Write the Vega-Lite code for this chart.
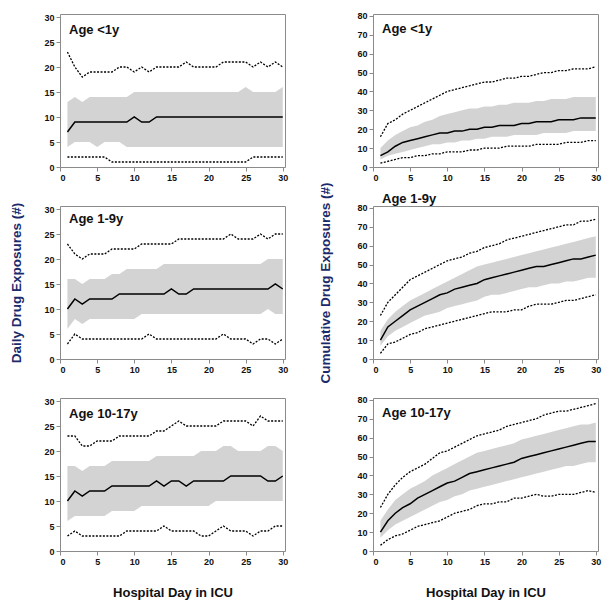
{
"$schema":"https://vega.github.io/schema/vega-lite/v6.json",
"padding":{"left":9,"top":11,"right":5,"bottom":0},
"background":"white",
"datasets":{"d":[
{"m":"daily","age":"<1y","day":1,"p5":2,"q1":4,"med":7,"q3":13,"p95":23},
{"m":"daily","age":"<1y","day":2,"p5":2,"q1":5,"med":9,"q3":14,"p95":20},
{"m":"daily","age":"<1y","day":3,"p5":2,"q1":5,"med":9,"q3":13,"p95":18},
{"m":"daily","age":"<1y","day":4,"p5":2,"q1":5,"med":9,"q3":14,"p95":19},
{"m":"daily","age":"<1y","day":5,"p5":2,"q1":4,"med":9,"q3":14,"p95":19},
{"m":"daily","age":"<1y","day":6,"p5":2,"q1":5,"med":9,"q3":14,"p95":19},
{"m":"daily","age":"<1y","day":7,"p5":1,"q1":5,"med":9,"q3":14,"p95":19},
{"m":"daily","age":"<1y","day":8,"p5":1,"q1":5,"med":9,"q3":14,"p95":20},
{"m":"daily","age":"<1y","day":9,"p5":1,"q1":4,"med":9,"q3":14,"p95":20},
{"m":"daily","age":"<1y","day":10,"p5":1,"q1":4,"med":10,"q3":15,"p95":19},
{"m":"daily","age":"<1y","day":11,"p5":1,"q1":4,"med":9,"q3":15,"p95":20},
{"m":"daily","age":"<1y","day":12,"p5":1,"q1":4,"med":9,"q3":15,"p95":19},
{"m":"daily","age":"<1y","day":13,"p5":1,"q1":4,"med":10,"q3":15,"p95":20},
{"m":"daily","age":"<1y","day":14,"p5":1,"q1":4,"med":10,"q3":15,"p95":20},
{"m":"daily","age":"<1y","day":15,"p5":1,"q1":4,"med":10,"q3":15,"p95":20},
{"m":"daily","age":"<1y","day":16,"p5":1,"q1":4,"med":10,"q3":15,"p95":20},
{"m":"daily","age":"<1y","day":17,"p5":1,"q1":4,"med":10,"q3":15,"p95":21},
{"m":"daily","age":"<1y","day":18,"p5":1,"q1":4,"med":10,"q3":15,"p95":20},
{"m":"daily","age":"<1y","day":19,"p5":1,"q1":4,"med":10,"q3":15,"p95":20},
{"m":"daily","age":"<1y","day":20,"p5":1,"q1":4,"med":10,"q3":15,"p95":20},
{"m":"daily","age":"<1y","day":21,"p5":1,"q1":4,"med":10,"q3":15,"p95":20},
{"m":"daily","age":"<1y","day":22,"p5":1,"q1":4,"med":10,"q3":15,"p95":21},
{"m":"daily","age":"<1y","day":23,"p5":1,"q1":4,"med":10,"q3":15,"p95":21},
{"m":"daily","age":"<1y","day":24,"p5":1,"q1":4,"med":10,"q3":15,"p95":21},
{"m":"daily","age":"<1y","day":25,"p5":1,"q1":4,"med":10,"q3":16,"p95":21},
{"m":"daily","age":"<1y","day":26,"p5":2,"q1":4,"med":10,"q3":15,"p95":20},
{"m":"daily","age":"<1y","day":27,"p5":2,"q1":4,"med":10,"q3":15,"p95":21},
{"m":"daily","age":"<1y","day":28,"p5":2,"q1":4,"med":10,"q3":15,"p95":20},
{"m":"daily","age":"<1y","day":29,"p5":2,"q1":4,"med":10,"q3":15,"p95":21},
{"m":"daily","age":"<1y","day":30,"p5":2,"q1":4,"med":10,"q3":16,"p95":20},
{"m":"daily","age":"1-9y","day":1,"p5":3,"q1":6,"med":10,"q3":16,"p95":23},
{"m":"daily","age":"1-9y","day":2,"p5":5,"q1":8,"med":12,"q3":16,"p95":21},
{"m":"daily","age":"1-9y","day":3,"p5":4,"q1":7,"med":11,"q3":15,"p95":20},
{"m":"daily","age":"1-9y","day":4,"p5":4,"q1":8,"med":12,"q3":16,"p95":21},
{"m":"daily","age":"1-9y","day":5,"p5":4,"q1":8,"med":12,"q3":16,"p95":21},
{"m":"daily","age":"1-9y","day":6,"p5":4,"q1":8,"med":12,"q3":16,"p95":21},
{"m":"daily","age":"1-9y","day":7,"p5":4,"q1":8,"med":12,"q3":17,"p95":22},
{"m":"daily","age":"1-9y","day":8,"p5":4,"q1":8,"med":13,"q3":17,"p95":22},
{"m":"daily","age":"1-9y","day":9,"p5":4,"q1":8,"med":13,"q3":18,"p95":22},
{"m":"daily","age":"1-9y","day":10,"p5":4,"q1":8,"med":13,"q3":18,"p95":22},
{"m":"daily","age":"1-9y","day":11,"p5":4,"q1":9,"med":13,"q3":18,"p95":23},
{"m":"daily","age":"1-9y","day":12,"p5":5,"q1":9,"med":13,"q3":18,"p95":23},
{"m":"daily","age":"1-9y","day":13,"p5":4,"q1":9,"med":13,"q3":18,"p95":23},
{"m":"daily","age":"1-9y","day":14,"p5":4,"q1":9,"med":13,"q3":19,"p95":23},
{"m":"daily","age":"1-9y","day":15,"p5":4,"q1":9,"med":14,"q3":19,"p95":23},
{"m":"daily","age":"1-9y","day":16,"p5":4,"q1":9,"med":13,"q3":19,"p95":24},
{"m":"daily","age":"1-9y","day":17,"p5":4,"q1":9,"med":13,"q3":19,"p95":24},
{"m":"daily","age":"1-9y","day":18,"p5":4,"q1":9,"med":14,"q3":19,"p95":24},
{"m":"daily","age":"1-9y","day":19,"p5":4,"q1":9,"med":14,"q3":19,"p95":24},
{"m":"daily","age":"1-9y","day":20,"p5":4,"q1":9,"med":14,"q3":19,"p95":24},
{"m":"daily","age":"1-9y","day":21,"p5":4,"q1":9,"med":14,"q3":19,"p95":24},
{"m":"daily","age":"1-9y","day":22,"p5":5,"q1":9,"med":14,"q3":19,"p95":24},
{"m":"daily","age":"1-9y","day":23,"p5":4,"q1":9,"med":14,"q3":19,"p95":25},
{"m":"daily","age":"1-9y","day":24,"p5":4,"q1":9,"med":14,"q3":19,"p95":24},
{"m":"daily","age":"1-9y","day":25,"p5":4,"q1":9,"med":14,"q3":19,"p95":24},
{"m":"daily","age":"1-9y","day":26,"p5":3,"q1":9,"med":14,"q3":19,"p95":24},
{"m":"daily","age":"1-9y","day":27,"p5":4,"q1":9,"med":14,"q3":19,"p95":25},
{"m":"daily","age":"1-9y","day":28,"p5":4,"q1":10,"med":14,"q3":20,"p95":24},
{"m":"daily","age":"1-9y","day":29,"p5":3,"q1":9,"med":15,"q3":20,"p95":25},
{"m":"daily","age":"1-9y","day":30,"p5":4,"q1":9,"med":14,"q3":20,"p95":25},
{"m":"daily","age":"10-17y","day":1,"p5":3,"q1":6,"med":10,"q3":17,"p95":23},
{"m":"daily","age":"10-17y","day":2,"p5":4,"q1":7,"med":12,"q3":17,"p95":23},
{"m":"daily","age":"10-17y","day":3,"p5":3,"q1":7,"med":11,"q3":16,"p95":21},
{"m":"daily","age":"10-17y","day":4,"p5":3,"q1":7,"med":12,"q3":17,"p95":21},
{"m":"daily","age":"10-17y","day":5,"p5":3,"q1":7,"med":12,"q3":17,"p95":22},
{"m":"daily","age":"10-17y","day":6,"p5":3,"q1":7,"med":12,"q3":17,"p95":22},
{"m":"daily","age":"10-17y","day":7,"p5":3,"q1":8,"med":13,"q3":18,"p95":22},
{"m":"daily","age":"10-17y","day":8,"p5":3,"q1":8,"med":13,"q3":18,"p95":23},
{"m":"daily","age":"10-17y","day":9,"p5":4,"q1":8,"med":13,"q3":18,"p95":23},
{"m":"daily","age":"10-17y","day":10,"p5":4,"q1":8,"med":13,"q3":18,"p95":23},
{"m":"daily","age":"10-17y","day":11,"p5":4,"q1":9,"med":13,"q3":18,"p95":23},
{"m":"daily","age":"10-17y","day":12,"p5":4,"q1":9,"med":13,"q3":18,"p95":23},
{"m":"daily","age":"10-17y","day":13,"p5":4,"q1":9,"med":14,"q3":19,"p95":24},
{"m":"daily","age":"10-17y","day":14,"p5":5,"q1":9,"med":13,"q3":19,"p95":24},
{"m":"daily","age":"10-17y","day":15,"p5":4,"q1":9,"med":14,"q3":19,"p95":25},
{"m":"daily","age":"10-17y","day":16,"p5":4,"q1":9,"med":14,"q3":19,"p95":26},
{"m":"daily","age":"10-17y","day":17,"p5":4,"q1":9,"med":13,"q3":19,"p95":25},
{"m":"daily","age":"10-17y","day":18,"p5":4,"q1":9,"med":14,"q3":19,"p95":25},
{"m":"daily","age":"10-17y","day":19,"p5":3,"q1":9,"med":14,"q3":20,"p95":25},
{"m":"daily","age":"10-17y","day":20,"p5":3,"q1":9,"med":14,"q3":20,"p95":25},
{"m":"daily","age":"10-17y","day":21,"p5":4,"q1":10,"med":14,"q3":20,"p95":25},
{"m":"daily","age":"10-17y","day":22,"p5":5,"q1":10,"med":14,"q3":21,"p95":26},
{"m":"daily","age":"10-17y","day":23,"p5":4,"q1":10,"med":15,"q3":21,"p95":26},
{"m":"daily","age":"10-17y","day":24,"p5":4,"q1":10,"med":15,"q3":20,"p95":26},
{"m":"daily","age":"10-17y","day":25,"p5":4,"q1":10,"med":15,"q3":20,"p95":26},
{"m":"daily","age":"10-17y","day":26,"p5":3,"q1":10,"med":15,"q3":20,"p95":25},
{"m":"daily","age":"10-17y","day":27,"p5":4,"q1":10,"med":15,"q3":20,"p95":27},
{"m":"daily","age":"10-17y","day":28,"p5":4,"q1":10,"med":14,"q3":21,"p95":26},
{"m":"daily","age":"10-17y","day":29,"p5":5,"q1":10,"med":14,"q3":21,"p95":26},
{"m":"daily","age":"10-17y","day":30,"p5":5,"q1":10,"med":15,"q3":20,"p95":26},
{"m":"cum","age":"<1y","day":1,"p5":2,"q1":4,"med":6,"q3":10,"p95":16},
{"m":"cum","age":"<1y","day":2,"p5":3,"q1":6,"med":8,"q3":14,"p95":23},
{"m":"cum","age":"<1y","day":3,"p5":4,"q1":7,"med":11,"q3":17,"p95":25},
{"m":"cum","age":"<1y","day":4,"p5":5,"q1":8,"med":13,"q3":19,"p95":28},
{"m":"cum","age":"<1y","day":5,"p5":5,"q1":9,"med":14,"q3":21,"p95":30},
{"m":"cum","age":"<1y","day":6,"p5":6,"q1":10,"med":15,"q3":22,"p95":32},
{"m":"cum","age":"<1y","day":7,"p5":6,"q1":11,"med":16,"q3":24,"p95":34},
{"m":"cum","age":"<1y","day":8,"p5":7,"q1":12,"med":17,"q3":25,"p95":36},
{"m":"cum","age":"<1y","day":9,"p5":7,"q1":12,"med":18,"q3":27,"p95":38},
{"m":"cum","age":"<1y","day":10,"p5":8,"q1":13,"med":18,"q3":28,"p95":40},
{"m":"cum","age":"<1y","day":11,"p5":8,"q1":13,"med":19,"q3":29,"p95":41},
{"m":"cum","age":"<1y","day":12,"p5":8,"q1":14,"med":19,"q3":30,"p95":42},
{"m":"cum","age":"<1y","day":13,"p5":9,"q1":14,"med":20,"q3":31,"p95":43},
{"m":"cum","age":"<1y","day":14,"p5":9,"q1":15,"med":20,"q3":31,"p95":44},
{"m":"cum","age":"<1y","day":15,"p5":10,"q1":15,"med":21,"q3":32,"p95":45},
{"m":"cum","age":"<1y","day":16,"p5":10,"q1":16,"med":21,"q3":32,"p95":45},
{"m":"cum","age":"<1y","day":17,"p5":10,"q1":16,"med":22,"q3":33,"p95":46},
{"m":"cum","age":"<1y","day":18,"p5":11,"q1":16,"med":22,"q3":33,"p95":47},
{"m":"cum","age":"<1y","day":19,"p5":11,"q1":17,"med":22,"q3":34,"p95":47},
{"m":"cum","age":"<1y","day":20,"p5":11,"q1":17,"med":23,"q3":34,"p95":48},
{"m":"cum","age":"<1y","day":21,"p5":11,"q1":17,"med":23,"q3":34,"p95":48},
{"m":"cum","age":"<1y","day":22,"p5":12,"q1":17,"med":24,"q3":35,"p95":49},
{"m":"cum","age":"<1y","day":23,"p5":12,"q1":18,"med":24,"q3":35,"p95":50},
{"m":"cum","age":"<1y","day":24,"p5":12,"q1":18,"med":24,"q3":36,"p95":50},
{"m":"cum","age":"<1y","day":25,"p5":12,"q1":18,"med":25,"q3":36,"p95":51},
{"m":"cum","age":"<1y","day":26,"p5":13,"q1":18,"med":25,"q3":36,"p95":51},
{"m":"cum","age":"<1y","day":27,"p5":13,"q1":19,"med":25,"q3":37,"p95":52},
{"m":"cum","age":"<1y","day":28,"p5":13,"q1":19,"med":26,"q3":37,"p95":52},
{"m":"cum","age":"<1y","day":29,"p5":14,"q1":19,"med":26,"q3":37,"p95":52},
{"m":"cum","age":"<1y","day":30,"p5":14,"q1":19,"med":26,"q3":37,"p95":53},
{"m":"cum","age":"1-9y","day":1,"p5":3,"q1":7,"med":10,"q3":15,"p95":23},
{"m":"cum","age":"1-9y","day":2,"p5":8,"q1":12,"med":17,"q3":21,"p95":30},
{"m":"cum","age":"1-9y","day":3,"p5":9,"q1":15,"med":20,"q3":25,"p95":34},
{"m":"cum","age":"1-9y","day":4,"p5":11,"q1":17,"med":23,"q3":28,"p95":38},
{"m":"cum","age":"1-9y","day":5,"p5":13,"q1":19,"med":26,"q3":31,"p95":42},
{"m":"cum","age":"1-9y","day":6,"p5":14,"q1":21,"med":28,"q3":33,"p95":44},
{"m":"cum","age":"1-9y","day":7,"p5":16,"q1":23,"med":30,"q3":35,"p95":46},
{"m":"cum","age":"1-9y","day":8,"p5":17,"q1":24,"med":32,"q3":37,"p95":48},
{"m":"cum","age":"1-9y","day":9,"p5":18,"q1":25,"med":34,"q3":39,"p95":50},
{"m":"cum","age":"1-9y","day":10,"p5":19,"q1":27,"med":35,"q3":41,"p95":52},
{"m":"cum","age":"1-9y","day":11,"p5":20,"q1":28,"med":37,"q3":43,"p95":53},
{"m":"cum","age":"1-9y","day":12,"p5":21,"q1":29,"med":38,"q3":45,"p95":54},
{"m":"cum","age":"1-9y","day":13,"p5":22,"q1":30,"med":39,"q3":47,"p95":56},
{"m":"cum","age":"1-9y","day":14,"p5":23,"q1":31,"med":40,"q3":49,"p95":57},
{"m":"cum","age":"1-9y","day":15,"p5":24,"q1":33,"med":42,"q3":50,"p95":59},
{"m":"cum","age":"1-9y","day":16,"p5":25,"q1":34,"med":43,"q3":51,"p95":60},
{"m":"cum","age":"1-9y","day":17,"p5":25,"q1":34,"med":44,"q3":52,"p95":61},
{"m":"cum","age":"1-9y","day":18,"p5":25,"q1":35,"med":45,"q3":53,"p95":63},
{"m":"cum","age":"1-9y","day":19,"p5":26,"q1":36,"med":46,"q3":54,"p95":64},
{"m":"cum","age":"1-9y","day":20,"p5":26,"q1":37,"med":47,"q3":55,"p95":65},
{"m":"cum","age":"1-9y","day":21,"p5":28,"q1":38,"med":48,"q3":56,"p95":66},
{"m":"cum","age":"1-9y","day":22,"p5":29,"q1":38,"med":49,"q3":57,"p95":67},
{"m":"cum","age":"1-9y","day":23,"p5":29,"q1":39,"med":49,"q3":58,"p95":68},
{"m":"cum","age":"1-9y","day":24,"p5":29,"q1":40,"med":50,"q3":59,"p95":69},
{"m":"cum","age":"1-9y","day":25,"p5":30,"q1":40,"med":51,"q3":60,"p95":70},
{"m":"cum","age":"1-9y","day":26,"p5":31,"q1":41,"med":52,"q3":61,"p95":71},
{"m":"cum","age":"1-9y","day":27,"p5":31,"q1":41,"med":53,"q3":62,"p95":71},
{"m":"cum","age":"1-9y","day":28,"p5":32,"q1":42,"med":53,"q3":63,"p95":73},
{"m":"cum","age":"1-9y","day":29,"p5":33,"q1":43,"med":54,"q3":64,"p95":73},
{"m":"cum","age":"1-9y","day":30,"p5":34,"q1":43,"med":55,"q3":65,"p95":74},
{"m":"cum","age":"10-17y","day":1,"p5":3,"q1":7,"med":10,"q3":16,"p95":23},
{"m":"cum","age":"10-17y","day":2,"p5":6,"q1":11,"med":16,"q3":22,"p95":30},
{"m":"cum","age":"10-17y","day":3,"p5":8,"q1":14,"med":20,"q3":27,"p95":35},
{"m":"cum","age":"10-17y","day":4,"p5":9,"q1":16,"med":23,"q3":30,"p95":39},
{"m":"cum","age":"10-17y","day":5,"p5":11,"q1":18,"med":25,"q3":33,"p95":42},
{"m":"cum","age":"10-17y","day":6,"p5":13,"q1":20,"med":28,"q3":35,"p95":44},
{"m":"cum","age":"10-17y","day":7,"p5":14,"q1":22,"med":30,"q3":37,"p95":46},
{"m":"cum","age":"10-17y","day":8,"p5":15,"q1":24,"med":32,"q3":40,"p95":49},
{"m":"cum","age":"10-17y","day":9,"p5":16,"q1":26,"med":34,"q3":42,"p95":52},
{"m":"cum","age":"10-17y","day":10,"p5":18,"q1":27,"med":36,"q3":44,"p95":53},
{"m":"cum","age":"10-17y","day":11,"p5":20,"q1":29,"med":37,"q3":46,"p95":55},
{"m":"cum","age":"10-17y","day":12,"p5":21,"q1":30,"med":39,"q3":48,"p95":57},
{"m":"cum","age":"10-17y","day":13,"p5":22,"q1":32,"med":41,"q3":50,"p95":59},
{"m":"cum","age":"10-17y","day":14,"p5":24,"q1":33,"med":42,"q3":52,"p95":61},
{"m":"cum","age":"10-17y","day":15,"p5":25,"q1":34,"med":43,"q3":53,"p95":62},
{"m":"cum","age":"10-17y","day":16,"p5":25,"q1":35,"med":44,"q3":54,"p95":63},
{"m":"cum","age":"10-17y","day":17,"p5":26,"q1":36,"med":45,"q3":55,"p95":64},
{"m":"cum","age":"10-17y","day":18,"p5":26,"q1":37,"med":46,"q3":56,"p95":66},
{"m":"cum","age":"10-17y","day":19,"p5":28,"q1":38,"med":47,"q3":57,"p95":67},
{"m":"cum","age":"10-17y","day":20,"p5":28,"q1":39,"med":49,"q3":59,"p95":68},
{"m":"cum","age":"10-17y","day":21,"p5":29,"q1":40,"med":50,"q3":60,"p95":69},
{"m":"cum","age":"10-17y","day":22,"p5":30,"q1":41,"med":51,"q3":61,"p95":70},
{"m":"cum","age":"10-17y","day":23,"p5":29,"q1":42,"med":52,"q3":62,"p95":72},
{"m":"cum","age":"10-17y","day":24,"p5":29,"q1":43,"med":53,"q3":63,"p95":73},
{"m":"cum","age":"10-17y","day":25,"p5":30,"q1":44,"med":54,"q3":64,"p95":74},
{"m":"cum","age":"10-17y","day":26,"p5":30,"q1":45,"med":55,"q3":65,"p95":74},
{"m":"cum","age":"10-17y","day":27,"p5":30,"q1":45,"med":56,"q3":66,"p95":75},
{"m":"cum","age":"10-17y","day":28,"p5":31,"q1":46,"med":57,"q3":67,"p95":76},
{"m":"cum","age":"10-17y","day":29,"p5":32,"q1":47,"med":58,"q3":67,"p95":77},
{"m":"cum","age":"10-17y","day":30,"p5":31,"q1":47,"med":58,"q3":68,"p95":78}
]},
"config":{
 "view":{"stroke":"#8a8a8a","strokeWidth":1},
 "axis":{"domain":false,"grid":false,"ticks":true,"tickColor":"#8a8a8a","tickSize":4,"labelFont":"Liberation Sans","labelFontWeight":"bold","labelFontSize":9,"labelColor":"#111111","labelPadding":2,"titleFont":"Liberation Sans","titleFontWeight":"bold"},
 "axisX":{"titleFontSize":13,"titleColor":"#111111","titlePadding":20},
 "axisY":{"titleFontSize":13.5,"titleColor":"#1b2a6b","titlePadding":20},
 "title":{"anchor":"start","frame":"group","offset":-24,"dx":9,"fontSize":13,"fontWeight":"bold","font":"Liberation Sans","color":"#111111"},
 "area":{"color":"#d3d3d3"},
 "line":{"color":"#000000"}
},
"spacing":29,
"hconcat":[
{"bounds":"flush","spacing":39,"vconcat":[
{"width":225,"height":153,"data":{"name":"d"},"transform":[{"filter":"datum.m=='daily' && datum.age=='<1y'"}],"title":"Age <1y",
 "encoding":{"x":{"field":"day","type":"quantitative","scale":{"domain":[0,30.3],"nice":false},"axis":{"values":[0,5,10,15,20,25,30],"title":null}}},
 "layer":[
  {"mark":{"type":"area"},"encoding":{"y":{"field":"q1","type":"quantitative","title":null,"scale":{"domain":[0,30.6],"nice":false},"axis":{"values":[0,5,10,15,20,25,30]}},"y2":{"field":"q3"}}},
  {"mark":{"type":"line","strokeWidth":1.5},"encoding":{"y":{"field":"med","type":"quantitative","title":null,"axis":{"values":[0,5,10,15,20,25,30]}}}},
  {"mark":{"type":"line","strokeWidth":1.3,"strokeDash":[2,1.5]},"encoding":{"y":{"field":"p5","type":"quantitative","title":null,"axis":{"values":[0,5,10,15,20,25,30]}}}},
  {"mark":{"type":"line","strokeWidth":1.3,"strokeDash":[2,1.5]},"encoding":{"y":{"field":"p95","type":"quantitative","title":null,"axis":{"values":[0,5,10,15,20,25,30]}}}}
 ]},
{"width":225,"height":153,"data":{"name":"d"},"transform":[{"filter":"datum.m=='daily' && datum.age=='1-9y'"}],"title":"Age 1-9y",
 "encoding":{"x":{"field":"day","type":"quantitative","scale":{"domain":[0,30.3],"nice":false},"axis":{"values":[0,5,10,15,20,25,30],"title":null}}},
 "layer":[
  {"mark":{"type":"area"},"encoding":{"y":{"field":"q1","type":"quantitative","title":"Daily Drug Exposures (#)","scale":{"domain":[0,30.6],"nice":false},"axis":{"values":[0,5,10,15,20,25,30]}},"y2":{"field":"q3"}}},
  {"mark":{"type":"line","strokeWidth":1.5},"encoding":{"y":{"field":"med","type":"quantitative","title":"Daily Drug Exposures (#)","axis":{"values":[0,5,10,15,20,25,30]}}}},
  {"mark":{"type":"line","strokeWidth":1.3,"strokeDash":[2,1.5]},"encoding":{"y":{"field":"p5","type":"quantitative","title":"Daily Drug Exposures (#)","axis":{"values":[0,5,10,15,20,25,30]}}}},
  {"mark":{"type":"line","strokeWidth":1.3,"strokeDash":[2,1.5]},"encoding":{"y":{"field":"p95","type":"quantitative","title":"Daily Drug Exposures (#)","axis":{"values":[0,5,10,15,20,25,30]}}}}
 ]},
{"width":225,"height":153,"data":{"name":"d"},"transform":[{"filter":"datum.m=='daily' && datum.age=='10-17y'"}],"title":"Age 10-17y",
 "encoding":{"x":{"field":"day","type":"quantitative","scale":{"domain":[0,30.3],"nice":false},"axis":{"values":[0,5,10,15,20,25,30],"title":"Hospital Day in ICU"}}},
 "layer":[
  {"mark":{"type":"area"},"encoding":{"y":{"field":"q1","type":"quantitative","title":null,"scale":{"domain":[0,30.6],"nice":false},"axis":{"values":[0,5,10,15,20,25,30]}},"y2":{"field":"q3"}}},
  {"mark":{"type":"line","strokeWidth":1.5},"encoding":{"y":{"field":"med","type":"quantitative","title":null,"axis":{"values":[0,5,10,15,20,25,30]}}}},
  {"mark":{"type":"line","strokeWidth":1.3,"strokeDash":[2,1.5]},"encoding":{"y":{"field":"p5","type":"quantitative","title":null,"axis":{"values":[0,5,10,15,20,25,30]}}}},
  {"mark":{"type":"line","strokeWidth":1.3,"strokeDash":[2,1.5]},"encoding":{"y":{"field":"p95","type":"quantitative","title":null,"axis":{"values":[0,5,10,15,20,25,30]}}}}
 ]}
]},
{"bounds":"flush","spacing":39,"vconcat":[
{"width":225,"height":153,"data":{"name":"d"},"transform":[{"filter":"datum.m=='cum' && datum.age=='<1y'"}],"title":"Age <1y",
 "encoding":{"x":{"field":"day","type":"quantitative","scale":{"domain":[0,30.3],"nice":false},"axis":{"values":[0,5,10,15,20,25,30],"title":null}}},
 "layer":[
  {"mark":{"type":"area"},"encoding":{"y":{"field":"q1","type":"quantitative","title":null,"scale":{"domain":[0,81],"nice":false},"axis":{"values":[0,10,20,30,40,50,60,70,80]}},"y2":{"field":"q3"}}},
  {"mark":{"type":"line","strokeWidth":1.5},"encoding":{"y":{"field":"med","type":"quantitative","title":null,"axis":{"values":[0,10,20,30,40,50,60,70,80]}}}},
  {"mark":{"type":"line","strokeWidth":1.3,"strokeDash":[2,1.5]},"encoding":{"y":{"field":"p5","type":"quantitative","title":null,"axis":{"values":[0,10,20,30,40,50,60,70,80]}}}},
  {"mark":{"type":"line","strokeWidth":1.3,"strokeDash":[2,1.5]},"encoding":{"y":{"field":"p95","type":"quantitative","title":null,"axis":{"values":[0,10,20,30,40,50,60,70,80]}}}}
 ]},
{"width":225,"height":153,"data":{"name":"d"},"transform":[{"filter":"datum.m=='cum' && datum.age=='1-9y'"}],"title":"Age 1-9y",
 "encoding":{"x":{"field":"day","type":"quantitative","scale":{"domain":[0,30.3],"nice":false},"axis":{"values":[0,5,10,15,20,25,30],"title":null}}},
 "layer":[
  {"mark":{"type":"area"},"encoding":{"y":{"field":"q1","type":"quantitative","title":"Cumulative Drug Exposures (#)","scale":{"domain":[0,81],"nice":false},"axis":{"values":[0,10,20,30,40,50,60,70,80],"titlePadding":24}},"y2":{"field":"q3"}}},
  {"mark":{"type":"line","strokeWidth":1.5},"encoding":{"y":{"field":"med","type":"quantitative","title":"Cumulative Drug Exposures (#)","axis":{"values":[0,10,20,30,40,50,60,70,80],"titlePadding":24}}}},
  {"mark":{"type":"line","strokeWidth":1.3,"strokeDash":[2,1.5]},"encoding":{"y":{"field":"p5","type":"quantitative","title":"Cumulative Drug Exposures (#)","axis":{"values":[0,10,20,30,40,50,60,70,80],"titlePadding":24}}}},
  {"mark":{"type":"line","strokeWidth":1.3,"strokeDash":[2,1.5]},"encoding":{"y":{"field":"p95","type":"quantitative","title":"Cumulative Drug Exposures (#)","axis":{"values":[0,10,20,30,40,50,60,70,80],"titlePadding":24}}}}
 ]},
{"width":225,"height":153,"data":{"name":"d"},"transform":[{"filter":"datum.m=='cum' && datum.age=='10-17y'"}],"title":"Age 10-17y",
 "encoding":{"x":{"field":"day","type":"quantitative","scale":{"domain":[0,30.3],"nice":false},"axis":{"values":[0,5,10,15,20,25,30],"title":"Hospital Day in ICU"}}},
 "layer":[
  {"mark":{"type":"area"},"encoding":{"y":{"field":"q1","type":"quantitative","title":null,"scale":{"domain":[0,81],"nice":false},"axis":{"values":[0,10,20,30,40,50,60,70,80]}},"y2":{"field":"q3"}}},
  {"mark":{"type":"line","strokeWidth":1.5},"encoding":{"y":{"field":"med","type":"quantitative","title":null,"axis":{"values":[0,10,20,30,40,50,60,70,80]}}}},
  {"mark":{"type":"line","strokeWidth":1.3,"strokeDash":[2,1.5]},"encoding":{"y":{"field":"p5","type":"quantitative","title":null,"axis":{"values":[0,10,20,30,40,50,60,70,80]}}}},
  {"mark":{"type":"line","strokeWidth":1.3,"strokeDash":[2,1.5]},"encoding":{"y":{"field":"p95","type":"quantitative","title":null,"axis":{"values":[0,10,20,30,40,50,60,70,80]}}}}
 ]}
]}
]
}
